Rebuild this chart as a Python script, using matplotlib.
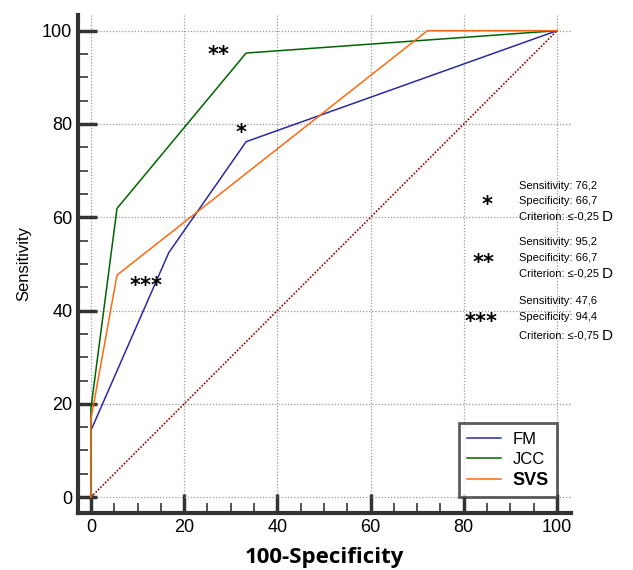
import matplotlib
matplotlib.use("Agg")
import matplotlib.pyplot as plt
from matplotlib.ticker import MultipleLocator

plt.rcParams['font.family'] = ['Liberation Sans', 'DejaVu Sans']

# Data
fm_x = [0, 0, 16.7, 33.3, 100]
fm_y = [0, 14.3, 52.4, 76.2, 100]
jcc_x = [0, 0, 5.6, 33.3, 100]
jcc_y = [0, 19.0, 61.9, 95.2, 100]
svs_x = [0, 0, 5.6, 72.2, 100]
svs_y = [0, 16.7, 47.6, 100, 100]
diag = [0, 100]
ticks = [0, 20, 40, 60, 80, 100]
series_names = ["FM", "JCC", "SVS"]
ann_stats = [
    ("*", "76,2", "66,7", "≤-0,25"),
    ("**", "95,2", "66,7", "≤-0,25"),
    ("***", "47,6", "94,4", "≤-0,75"),
]

fig = plt.figure(figsize=(6.33, 5.7), dpi=100)
ax = fig.add_axes([0.123, 0.1, 0.779, 0.874])

ax.set_xlim(-2.8, 103)
ax.set_ylim(-3.4, 103.4)

ax.plot(diag, diag, color="#a00000", lw=1.2, ls=(0, (1, 1)))
l1, = ax.plot(fm_x, fm_y, color="#2a2aa0", lw=1.1, label=series_names[0])
l2, = ax.plot(jcc_x, jcc_y, color="#006400", lw=1.1, label=series_names[1])
l3, = ax.plot(svs_x, svs_y, color="#ff6a10", lw=1.1, label=series_names[2])

ax.set_xticks(ticks)
ax.set_yticks(ticks)
ax.xaxis.set_minor_locator(MultipleLocator(5))
ax.yaxis.set_minor_locator(MultipleLocator(5))
ax.tick_params(which="major", direction="in", length=14, width=2.5, color="#333333",
               labelsize=13, pad=4)
ax.tick_params(which="minor", direction="in", length=7, width=1.2, color="#333333")
ax.grid(True, which="major", ls=(0, (1, 1.5)), color="#999999", lw=0.9)
for s in ["top", "right"]:
    ax.spines[s].set_visible(False)
for s in ["left", "bottom"]:
    ax.spines[s].set_linewidth(3)
    ax.spines[s].set_color("#333333")

ax.set_ylabel("Sensitivity", fontsize=12, labelpad=8)
ax.set_xlabel("100-Specificity", fontsize=16, fontweight="bold", labelpad=8,
              family=["Open Sans", "DejaVu Sans"])

# Star markers on curves
star_kw = dict(fontsize=15, fontweight="bold", ha="center", va="center",
               family=["DejaVu Sans"])
ax.text(27.3, 94.8, "**", **star_kw)
ax.text(32.3, 78.0, "*", **star_kw)
ax.text(11.8, 45.3, "***", **star_kw)

# Right-side annotation blocks
star_pos = [(85.0, 62.6), (84.3, 50.3), (83.6, 37.6)]
text_x = 91.8
line_y = [(66.8, 63.4, 60.1), (54.6, 51.2, 47.9), (42.0, 38.6, 34.6)]
for (stars, sens, spec, crit), (sx, sy), (y1, y2, y3) in zip(ann_stats, star_pos, line_y):
    ax.text(sx, sy, stars, **star_kw)
    ax.text(text_x, y1, f"Sensitivity: {sens}", fontsize=8, ha="left", va="center")
    ax.text(text_x, y2, f"Specificity: {spec}", fontsize=8, ha="left", va="center")
    t = ax.text(text_x, y3, f"Criterion: {crit}", fontsize=8, ha="left", va="center",
                family=["Liberation Sans", "DejaVu Sans"])
    ax.annotate("D", xy=(1, 0.5), xycoords=t, xytext=(2, 0), textcoords="offset points",
                fontsize=11, ha="left", va="center")

leg = ax.legend(handles=[l1, l2, l3], loc="lower right", bbox_to_anchor=(100, 0),
                bbox_transform=ax.transData, borderaxespad=0,
                fontsize=12, frameon=True, fancybox=False, handlelength=2.0,
                handletextpad=0.7, borderpad=0.5, labelspacing=0.3)
leg.get_frame().set_edgecolor("#333333")
leg.get_frame().set_linewidth(2)
leg.get_texts()[2].set_fontweight("bold")
leg.get_texts()[2].set_fontsize(13)

fig.savefig("out.png", dpi=100)
